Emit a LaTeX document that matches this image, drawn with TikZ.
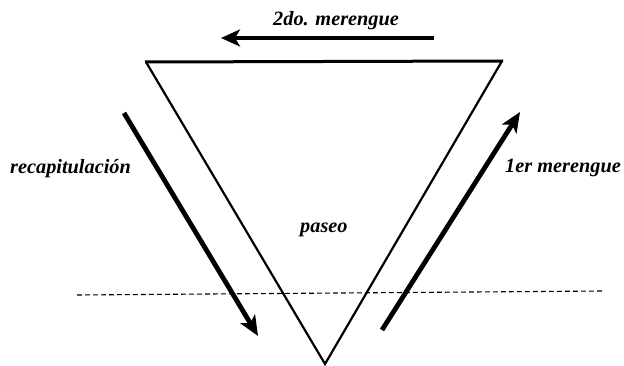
\documentclass[tikz,border=0pt]{standalone}
\usepackage{fontspec}
\setmainfont{Liberation Serif}
\usetikzlibrary{arrows.meta}
\begin{document}
\begin{tikzpicture}[x=1pt,y=-1pt,
  lbl/.style={font=\fontsize{20.3}{20}\selectfont\bfseries\itshape, inner sep=0pt, anchor=base west},
  side/.style={line width=2.2pt, line join=miter},
  topedge/.style={line width=3pt},
  bigarrow/.style={line width=4.8pt, -{Stealth[length=20pt,width=17pt,inset=5pt]}},
  toparrow/.style={line width=4pt, -{Stealth[length=19pt,width=17pt,inset=5pt]}},
  dashline/.style={line width=1.1pt, dash pattern=on 5pt off 3pt}]
\useasboundingbox[fill=white] (0,0) rectangle (624,366);
% triangle vertices
\coordinate (tl) at (146,62);
\coordinate (tr) at (502,61);
\coordinate (bt) at (325,364);
\draw[side] (tl) -- (bt) -- (tr);
\draw[topedge] ([xshift=-1pt]tl) -- ([xshift=1pt]tr);
% arrows
\coordinate (a2s) at (434,38);
\coordinate (a2e) at (221,38);
\draw[toparrow] (a2s) -- (a2e);
\coordinate (ars) at (124,113);
\coordinate (are) at (258,336);
\draw[bigarrow] (ars) -- (are);
\coordinate (a1s) at (382,330);
\coordinate (a1e) at (520,112);
\draw[bigarrow] (a1s) -- (a1e);
% dashed line
\coordinate (dl) at (77,295);
\coordinate (dr) at (604,291);
\draw[dashline] (dl) -- (dr);
% labels
\node[lbl] (t2) at (273,26) {2do. merengue};
\node[lbl] (tr1) at (10,174) {recapitulación};
\node[lbl, anchor=base east] (t1) at (621,173) {1er merengue};
\node[lbl] (tp) at (300,233) {paseo};
\end{tikzpicture}
\end{document}
